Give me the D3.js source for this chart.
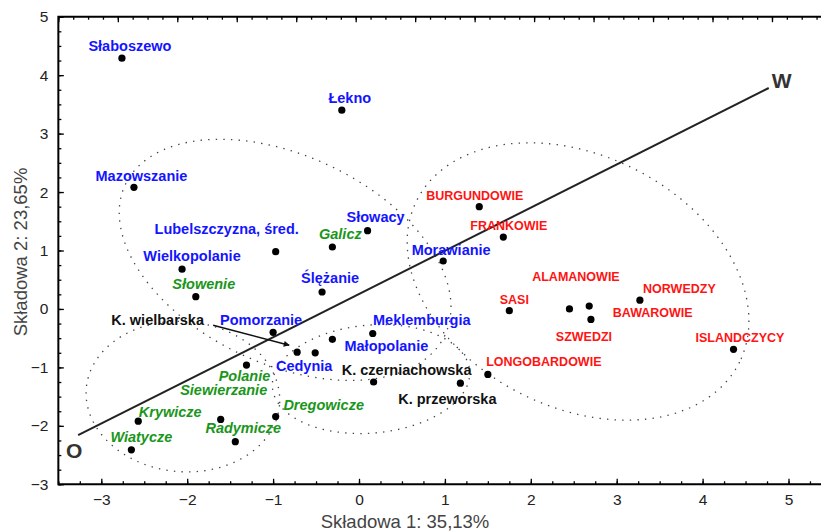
<!DOCTYPE html>
<html>
<head>
<meta charset="utf-8">
<script src="https://cdn.jsdelivr.net/npm/d3@7"></script>
<style>
  body { margin: 0; background: #fff; }
  svg { display: block; font-family: "Liberation Sans", Arial, sans-serif; }
</style>
</head>
<body>
<svg id="chart" width="821" height="531"></svg>
<script>
// points of the PCA plot (Składowa 1, Składowa 2)
var names = ["Słaboszewo", "Łekno", "Mazowszanie", "Lubelszczyzna, śred.", "Wielkopolanie",
  "Słowacy", "Ślężanie", "Morawianie", "Pomorzanie", "Meklemburgia", "Małopolanie", "Cedynia",
  "Słowenie", "Galicz", "Polanie", "Siewierzanie", "Krywicze", "Wiatycze", "Radymicze", "Dregowicze",
  "K. czerniachowska", "K. przeworska", "K. wielbarska",
  "BURGUNDOWIE", "FRANKOWIE", "SASI", "ALAMANOWIE", "BAWAROWIE", "SZWEDZI", "NORWEDZY",
  "ISLANDCZYCY", "LONGOBARDOWIE"];
var comp1 = [-2.76, -0.20, -2.62, -0.97, -2.06,
  0.10, -0.43, 0.98, -1.00, 0.16, -0.31, -0.51,
  -1.90, -0.31, -1.31, -1.61, -2.57, -2.65, -1.44, -0.97,
  0.17, 1.18, -0.72,
  1.40, 1.68, 1.75, 2.45, 2.68, 2.70, 3.27,
  4.36, 1.50];
var comp2 = [4.29, 3.40, 2.08, 0.98, 0.68,
  1.34, 0.29, 0.82, -0.40, -0.42, -0.52, -0.75,
  0.21, 1.06, -0.96, -1.89, -1.92, -2.41, -2.27, -1.84,
  -1.25, -1.27, -0.74,
  1.75, 1.23, -0.03, 0.00, 0.05, -0.18, 0.15,
  -0.69, -1.12];
var groups = ["zach", "zach", "zach", "zach", "zach",
  "zach", "zach", "zach", "zach", "zach", "zach", "zach",
  "pol", "pol", "wsch", "wsch", "wsch", "wsch", "wsch", "wsch",
  "kult", "kult", "kult",
  "germ", "germ", "germ", "germ", "germ", "germ", "germ",
  "germ", "germ"];

// O - W vector
var owX = [-3.27, 4.77];
var owY = [-2.16, 3.78];
var owLabels = ["O", "W"];

// dotted group ellipses: centre and two semi-axis vectors, in data units
var ellCx = [-0.86, 2.55, -2.05, 0.14];
var ellCy = [0.84, 0.47, -1.50, -1.20];
var ellAx = [1.86, 1.88, 1.125, 1.148];
var ellAy = [-1.29, -1.38, -0.145, 0.147];
var ellBx = [-0.52, -0.65, -0.076, 0.055];
var ellBy = [-1.61, -1.93, -1.28, -0.92];

var xTicks = [-3, -2, -1, 0, 1, 2, 3, 4, 5];
var yTicks = [-3, -2, -1, 0, 1, 2, 3, 4, 5];

// label placement (pixels from the point)
var labelOffset = {
  "Słaboszewo": [8, -7.5], "Łekno": [8, -7], "Mazowszanie": [7.5, -6],
  "Lubelszczyzna, śred.": [-49, -18], "Wielkopolanie": [10, -8], "Słowacy": [8, -9],
  "Ślężanie": [8, -9], "Morawianie": [8, -6], "Pomorzanie": [-12, -7.5],
  "Meklemburgia": [49, -8], "Małopolanie": [54, 12], "Cedynia": [-11, 18],
  "Słowenie": [8, -8], "Galicz": [8, -8], "Polanie": [-2, 16], "Siewierzanie": [3, -24],
  "Krywicze": [32, -4], "Wiatycze": [10, -8], "Radymicze": [8, -9], "Dregowicze": [48, -6],
  "K. czerniachowska": [33, -7], "K. przeworska": [-13, 21], "K. wielbarska": [-139.5, -27],
  "BURGUNDOWIE": [-4.5, -6.5], "FRANKOWIE": [5.5, -7], "SASI": [5, -7],
  "ALAMANOWIE": [6.5, -28], "BAWAROWIE": [63.5, 11], "SZWEDZI": [-7, 22],
  "NORWEDZY": [39.5, -7], "ISLANDCZYCY": [6.5, -7], "LONGOBARDOWIE": [56, -8]
};

var color = {zach: "#1414ff", pol: "#1a961a", wsch: "#1a961a", kult: "#111", germ: "#ff1414"};

var svg = d3.select("#chart");
var plotL = 58.35, plotR = 831.45, plotT = 16.7, plotB = 484.3;

var x = d3.scaleLinear().domain([-3.5, 5.5]).range([plotL, plotR]);
var y = d3.scaleLinear().domain([-3, 5]).range([plotB, plotT]);
// top frame carries its own uniform scale
var xTop = d3.scaleLinear().domain([0, 13]).range([plotL, plotR]);

var data = names.map(function(n, i) {
  return {name: n, c1: comp1[i], c2: comp2[i], group: groups[i]};
});

// ellipses
var ellLine = d3.line()
  .x(function(d) { return x(d[0]); })
  .y(function(d) { return y(d[1]); })
  .curve(d3.curveLinearClosed);

svg.append("g").selectAll("path")
  .data(ellCx)
  .enter().append("path")
  .attr("d", function(c, i) {
    var pts = d3.range(0, 360, 2).map(function(a) {
      var t = a * Math.PI / 180;
      return [c + ellAx[i] * Math.cos(t) + ellBx[i] * Math.sin(t),
              ellCy[i] + ellAy[i] * Math.cos(t) + ellBy[i] * Math.sin(t)];
    });
    return ellLine(pts);
  })
  .attr("fill", "none")
  .attr("stroke", "#444")
  .attr("stroke-width", 1.3)
  .attr("stroke-dasharray", "1.4 6.2");

// O-W line
svg.append("line")
  .attr("x1", x(owX[0])).attr("y1", y(owY[0]))
  .attr("x2", x(owX[1])).attr("y2", y(owY[1]))
  .attr("stroke", "#222")
  .attr("stroke-width", 2);

svg.append("text")
  .attr("x", x(owX[0]) - 4).attr("y", y(owY[0]) + 23)
  .attr("text-anchor", "middle")
  .attr("font-size", 21).attr("font-weight", "bold").attr("fill", "#333")
  .text(owLabels[0]);
svg.append("text")
  .attr("x", x(owX[1]) + 13).attr("y", y(owY[1]) - 0.5)
  .attr("text-anchor", "middle")
  .attr("font-size", 21).attr("font-weight", "bold").attr("fill", "#333")
  .text(owLabels[1]);

// arrow for K. wielbarska
svg.append("defs").append("marker")
  .attr("id", "head")
  .attr("viewBox", "0 0 10 10")
  .attr("refX", 9).attr("refY", 5)
  .attr("markerWidth", 8).attr("markerHeight", 6)
  .attr("markerUnits", "userSpaceOnUse")
  .attr("orient", "auto")
  .append("path").attr("d", "M0,0 L10,5 L0,10 z").attr("fill", "#111");

var wb = data.filter(function(d) { return d.name === "K. wielbarska"; })[0];
svg.append("line")
  .attr("x1", x(wb.c1) - 84).attr("y1", y(wb.c2) - 27)
  .attr("x2", x(wb.c1) - 8).attr("y2", y(wb.c2) - 7)
  .attr("stroke", "#111").attr("stroke-width", 1.6)
  .attr("marker-end", "url(#head)");

// points
svg.append("g").selectAll("circle")
  .data(data)
  .enter().append("circle")
  .attr("cx", function(d) { return x(d.c1); })
  .attr("cy", function(d) { return y(d.c2); })
  .attr("r", 3.6)
  .attr("fill", "#000");

// point labels
svg.append("g").selectAll("text")
  .data(data)
  .enter().append("text")
  .attr("x", function(d) { return x(d.c1) + labelOffset[d.name][0]; })
  .attr("y", function(d) { return y(d.c2) + labelOffset[d.name][1]; })
  .attr("text-anchor", "middle")
  .attr("font-weight", "bold")
  .attr("font-style", function(d) { return (d.group === "pol" || d.group === "wsch") ? "italic" : "normal"; })
  .attr("font-size", function(d) { return d.group === "germ" ? 12.5 : 14.5; })
  .attr("fill", function(d) { return color[d.group]; })
  .text(function(d) { return d.name; });

// axes
function styleAxis(g) {
  g.select(".domain").remove();
  g.selectAll(".tick line").attr("stroke", "#000").attr("stroke-width", 1.3);
  g.selectAll(".tick text").attr("fill", "#222").attr("font-size", 15.5)
    .attr("font-family", "\"Liberation Sans\", Arial, sans-serif");
}

var minorX = d3.range(-3.5, 5.5001, 0.25);
var minorY = d3.range(-3, 5.0001, 0.25);
var minorTop = d3.range(0, 13.0001, 0.25);

svg.append("g").attr("transform", "translate(0," + plotB + ")")
  .call(d3.axisBottom(x).tickValues(minorX).tickSize(-3).tickFormat(""))
  .call(styleAxis);
svg.append("g").attr("transform", "translate(0," + plotB + ")")
  .call(d3.axisBottom(x).tickValues(xTicks).tickSize(-5.5).tickPadding(10))
  .call(styleAxis);

svg.append("g").attr("transform", "translate(" + plotL + ",0)")
  .call(d3.axisLeft(y).tickValues(minorY).tickSize(-3).tickFormat(""))
  .call(styleAxis);
svg.append("g").attr("transform", "translate(" + plotL + ",0)")
  .call(d3.axisLeft(y).tickValues(yTicks).tickSize(-5.5).tickPadding(10))
  .call(styleAxis);

svg.append("g").attr("transform", "translate(0," + plotT + ")")
  .call(d3.axisTop(xTop).tickValues(minorTop).tickSize(-3).tickFormat(""))
  .call(styleAxis);
svg.append("g").attr("transform", "translate(0," + plotT + ")")
  .call(d3.axisTop(xTop).ticks(13).tickSize(-5.5).tickFormat(""))
  .call(styleAxis);

// frame
svg.append("path")
  .attr("d", "M" + plotR + "," + plotT + "H" + plotL + "V" + plotB + "H" + plotR)
  .attr("fill", "none")
  .attr("stroke", "#000")
  .attr("stroke-width", 2);

// axis titles
svg.append("text")
  .attr("x", 405).attr("y", 528)
  .attr("text-anchor", "middle")
  .attr("font-size", 18.5).attr("fill", "#444")
  .text("Składowa 1: 35,13%");

svg.append("text")
  .attr("transform", "translate(27,252) rotate(-90)")
  .attr("text-anchor", "middle")
  .attr("font-size", 18.5).attr("fill", "#444")
  .text("Składowa 2: 23,65%");
</script>
</body>
</html>
